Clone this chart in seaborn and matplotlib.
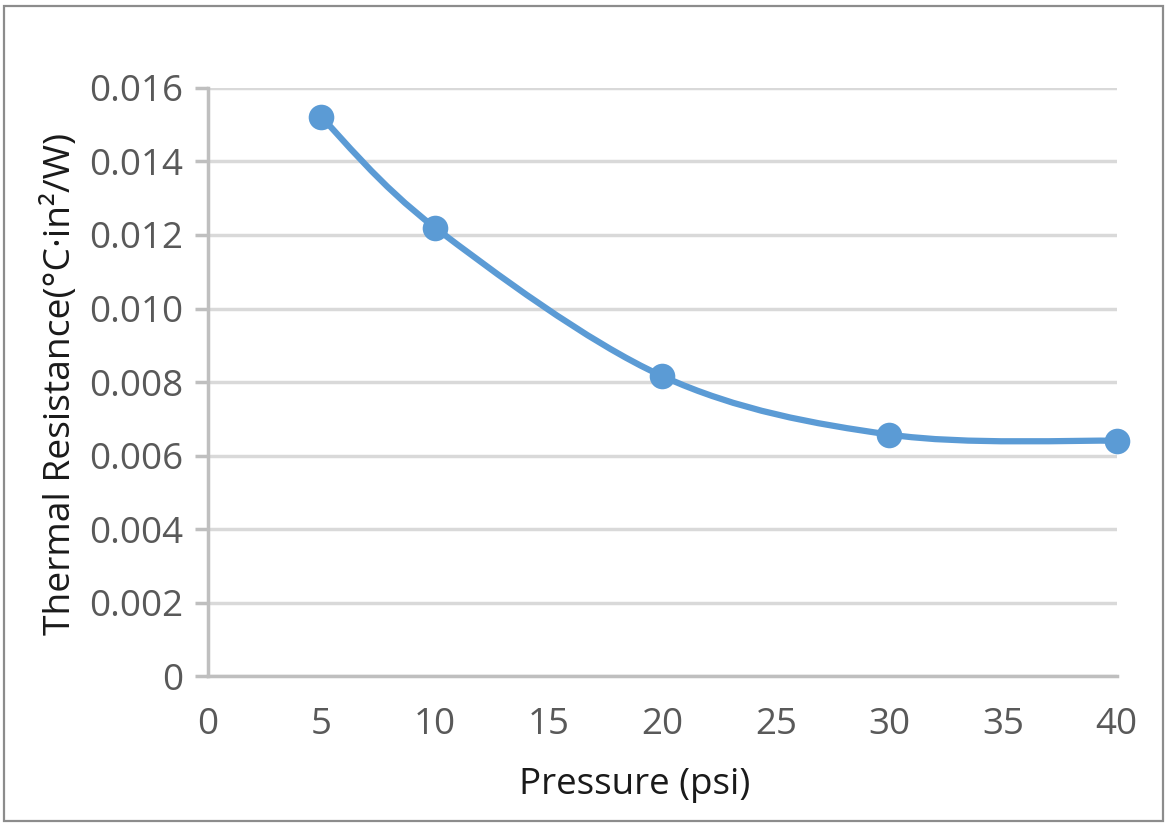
import numpy as np
import pandas as pd
import seaborn as sns
import matplotlib.pyplot as plt
from matplotlib.path import Path
from matplotlib.patches import PathPatch, Rectangle
from matplotlib.ticker import FuncFormatter

# values
pressure = [5, 10, 20, 30, 40]
resistance = [0.0152, 0.0122, 0.00816, 0.00657, 0.0064]
x_ticks = [0, 5, 10, 15, 20, 25, 30, 35, 40]
y_ticks = [0, 0.002, 0.004, 0.006, 0.008, 0.010, 0.012, 0.014, 0.016]

BLUE = "#5b9bd5"

sns.set_theme(style="white")
plt.rcParams['font.family'] = ['Open Sans', 'DejaVu Sans']

df = pd.DataFrame({"Pressure": pressure, "R": resistance})

fig = plt.figure(figsize=(11.68, 8.3), dpi=100)
ax = fig.add_axes([0.178, 0.1855, 0.778, 0.7085])


def smooth_path(xs, ys):
    # excel-style smoothed line: cubic bezier segments through the points
    pts = np.column_stack([xs, ys]).astype(float)
    n = len(pts)
    verts = [pts[0]]
    codes = [Path.MOVETO]
    for i in range(n - 1):
        p0 = pts[i - 1] if i > 0 else pts[i]
        p1 = pts[i]
        p2 = pts[i + 1]
        p3 = pts[i + 2] if i + 2 < n else pts[i + 1]
        c1 = p1 + (p2 - p0) / 6.0
        c2 = p2 - (p3 - p1) / 6.0
        verts += [c1, c2, p2]
        codes += [Path.CURVE4] * 3
    return Path(verts, codes)


ax.add_patch(PathPatch(smooth_path(df.Pressure, df.R), facecolor="none",
                       edgecolor=BLUE, lw=4.5, capstyle="round", zorder=3))
sns.scatterplot(data=df, x="Pressure", y="R", ax=ax, s=340, color=BLUE,
                edgecolor=BLUE, linewidth=0, zorder=4, legend=False, clip_on=False)

ax.set_xlim(0, 40)
ax.set_ylim(0, 0.016)
ax.set_xticks(x_ticks)
ax.set_yticks(y_ticks)
ax.yaxis.set_major_formatter(FuncFormatter(lambda v, p: "0" if v == 0 else f"{v:.3f}"))
ax.grid(axis="y", color="#d9d9d9", lw=2.5)
ax.set_axisbelow(True)

for s in ["top", "right"]:
    ax.spines[s].set_visible(False)
ax.spines["left"].set_color("#bfbfbf")
ax.spines["left"].set_linewidth(2.5)
ax.spines["bottom"].set_color("#bfbfbf")
ax.spines["bottom"].set_linewidth(2.5)
ax.spines["left"].set_zorder(2)

ax.tick_params(axis="y", length=9.5, width=2.5, color="#bfbfbf", pad=8,
               labelsize=26.5, labelcolor="#595959", left=True)
ax.tick_params(axis="x", length=0, pad=22, labelsize=26.5, labelcolor="#595959")

ax.set_xlabel("Pressure (psi)", fontsize=26.5, color="#1a1a1a", labelpad=18)
ax.xaxis.set_label_coords(0.47, -0.155)
ax.set_ylabel("Thermal Resistance(°C·in²/W)", fontsize=26.8, color="#1a1a1a")
ax.yaxis.set_label_coords(-0.142, 0.497)

fig.patches.append(Rectangle((4 / 1168, 1 - 821 / 830), 1159 / 1168, 815 / 830,
                             transform=fig.transFigure, fill=False,
                             edgecolor="#8c8c8c", lw=1.6))

fig.savefig("out.png", dpi=100)
